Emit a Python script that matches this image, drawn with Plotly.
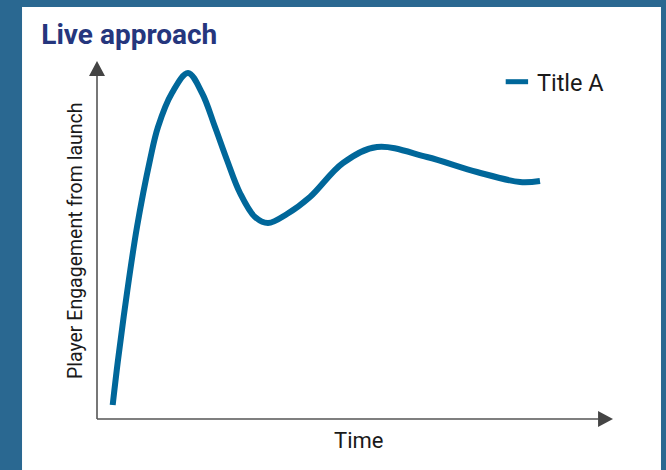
import plotly.graph_objects as go

# Engagement curve for a live-service launch (relative units)
time = [3.04, 4.07, 5.81, 7.75, 10.27, 11.82, 14.53, 17.64, 20.35, 22.87, 25.19, 27.71,
        30.62, 33.14, 36.82, 41.28, 47.67, 54.26, 63.95, 73.64, 81.98, 85.85]
engagement = [3.91, 16.48, 35.20, 53.63, 72.35, 81.56, 91.06, 96.65, 91.06, 81.56, 72.35, 63.13,
              56.42, 54.75, 57.26, 62.01, 71.51, 75.98, 73.18, 68.99, 66.20, 66.48]

series_name = "Title A"
chart_title = "Live approach"
x_title = "Time"
y_title = "Player Engagement from launch"

LINE_BLUE = "#00679a"
AXIS_GREY = "#555555"
ARROW_GREY = "#444444"
FONT = "Roboto"

fig = go.Figure()

fig.add_trace(go.Scatter(
    x=time, y=engagement, mode="lines",
    line=dict(color=LINE_BLUE, width=6, shape="spline", smoothing=1.0, simplify=False),
    showlegend=False, hoverinfo="skip",
))

# short dash used as the legend key
fig.add_trace(go.Scatter(
    x=[None], y=[None], mode="markers", name=series_name,
    marker=dict(symbol="line-ew", size=17, color=LINE_BLUE,
                line=dict(color=LINE_BLUE, width=6)),
))

shapes = [
    # white card behind the chart
    dict(type="rect", xref="paper", yref="paper", x0=-0.1453, x1=1.093, y0=-0.2, y1=1.151,
         fillcolor="white", line=dict(width=0), layer="below"),
    # axis lines
    dict(type="line", xref="paper", yref="paper", x0=0, x1=0, y0=0, y1=0.96,
         line=dict(color=AXIS_GREY, width=1.6)),
    dict(type="line", xref="paper", yref="paper", x0=0, x1=0.972, y0=0, y1=0,
         line=dict(color=AXIS_GREY, width=1.6)),
    # arrow heads
    dict(type="path", xref="paper", yref="paper",
         path="M -0.0155 0.958 L 0.0155 0.958 L 0 1.0 Z",
         fillcolor=ARROW_GREY, line=dict(width=0)),
    dict(type="path", xref="paper", yref="paper",
         path="M 0.971 -0.0223 L 0.971 0.0223 L 1.0 0 Z",
         fillcolor=ARROW_GREY, line=dict(width=0)),
]

annotations = [
    dict(text=y_title, xref="paper", yref="paper", x=-0.0426, y=0.497,
         textangle=-90, showarrow=False, xanchor="center", yanchor="middle",
         font=dict(family=FONT, size=19.5, color="#1a1a1a")),
    dict(text=x_title, xref="paper", yref="paper", x=0.506, y=-0.0587,
         showarrow=False, xanchor="center", yanchor="middle",
         font=dict(family=FONT, size=22, color="#1a1a1a")),
]

fig.update_layout(
    width=666, height=470,
    margin=dict(l=97, r=53, t=61, b=51),
    paper_bgcolor="#2a6891",
    plot_bgcolor="rgba(0,0,0,0)",
    title=dict(text=chart_title, xref="container", yref="container",
               x=0.062, y=0.928, xanchor="left", yanchor="middle",
               font=dict(family=FONT, size=28, color="#25367d", weight="bold")),
    xaxis=dict(range=[0, 100], visible=False, fixedrange=True),
    yaxis=dict(range=[0, 100], visible=False, fixedrange=True),
    legend=dict(x=0.775, y=1.003, xanchor="left", yanchor="top",
                bgcolor="rgba(0,0,0,0)",
                font=dict(family=FONT, size=23.5, color="#1a1a1a")),
    shapes=shapes,
    annotations=annotations,
    font=dict(family=FONT),
)

fig.write_html("out.html")
